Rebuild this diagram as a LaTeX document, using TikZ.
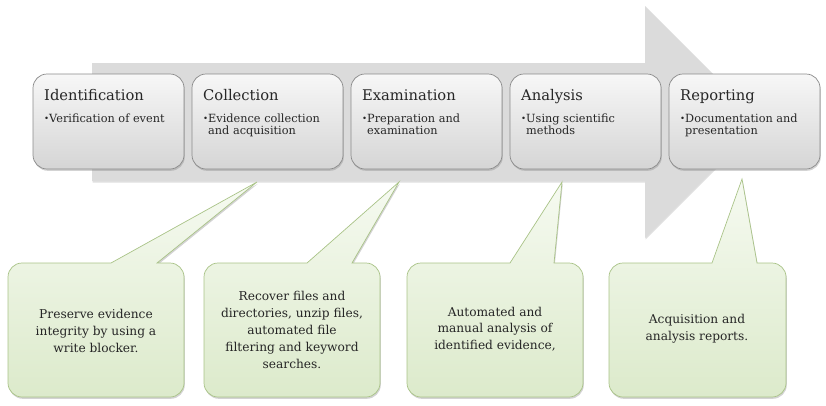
\documentclass[tikz,border=0pt]{standalone}
\usepackage{fontspec}
\setmainfont{DejaVu Serif}
\usetikzlibrary{shadows}
\definecolor{arrowgray}{HTML}{DBDBDB}
\definecolor{boxtop}{HTML}{F7F7F7}
\definecolor{boxbot}{HTML}{D5D5D5}
\definecolor{boxline}{HTML}{8A8A8A}
\definecolor{greentop}{HTML}{F6FAF1}
\definecolor{greenbot}{HTML}{DCEACB}
\definecolor{greenline}{HTML}{A9C387}
\definecolor{txt}{HTML}{262626}
\newcommand{\mybul}{\makebox[5pt][l]{\raisebox{0.3pt}{\fontsize{8.5}{8.5}\selectfont •}}}
% callout: x1 x2 yt yb bx1 bx2 tip
\newcommand{\mycallout}[7]{%
  \path[callout]
    (#1,{#3+14}) .. controls (#1,{#3+6.3}) and ({#1+6.3},#3) .. ({#1+14},#3)
    -- (#5,#3) -- (#7) -- (#6,#3)
    -- ({#2-14},#3) .. controls ({#2-6.3},#3) and (#2,{#3+6.3}) .. (#2,{#3+14})
    -- (#2,{#4-14}) .. controls (#2,{#4-6.3}) and ({#2-6.3},#4) .. ({#2-14},#4)
    -- ({#1+14},#4) .. controls ({#1+6.3},#4) and (#1,{#4-6.3}) .. (#1,{#4-14})
    -- cycle;}
\begin{document}
\begin{tikzpicture}[x=1pt,y=-1pt,
  topbox/.style={draw=boxline, line width=0.7pt, rounded corners=14pt,
    top color=boxtop, bottom color=boxbot, minimum width=151pt,
    minimum height=95pt, inner sep=0pt,
    drop shadow={shadow xshift=0.8pt, shadow yshift=-1.8pt, opacity=0.35}},
  titlet/.style={anchor=base west, inner sep=0pt, text=txt,
    font=\fontsize{14.7}{16}\selectfont},
  bult/.style={anchor=base west, inner sep=0pt, text=txt,
    font=\fontsize{11.3}{12.2}\selectfont},
  callout/.style={draw=greenline, line width=0.7pt, top color=greentop,
    bottom color=greenbot,
    drop shadow={shadow xshift=0.8pt, shadow yshift=-1.8pt, opacity=0.35}},
  calltext/.style={align=center, inner sep=0pt, text=txt,
    font=\fontsize{12.2}{16.8}\selectfont},
  bigarrow/.style={fill=arrowgray,
    drop shadow={shadow xshift=0.5pt, shadow yshift=-1.5pt, opacity=0.25}}
]
\useasboundingbox (0,0) rectangle (826,405);

% big arrow
\path[bigarrow] (92,63) -- (645,63) -- (645,6) -- (761,122) -- (645,238)
  -- (645,181) -- (92,181) -- cycle;

% top boxes
\node[topbox] (id)  at (108.5,121.5) {};
\node[topbox] (col) at (267.5,121.5) {};
\node[topbox] (ex)  at (426.5,121.5) {};
\node[topbox] (an)  at (585.5,121.5) {};
\node[topbox] (rep) at (744.5,121.5) {};

\node[titlet] (idT)  at (44,100)  {Identification};
\node[titlet] (colT) at (203,100) {Collection};
\node[titlet] (exT)  at (362,100) {Examination};
\node[titlet] (anT)  at (521,100) {Analysis};
\node[titlet] (repT) at (680,100) {Reporting};

\node[bult] (idB)  at (44,122)  {\mybul\parbox[t]{135pt}{Verification of event}};
\node[bult] (colB) at (203,122) {\mybul\parbox[t]{135pt}{Evidence collection\\and acquisition}};
\node[bult] (exB)  at (362,122) {\mybul\parbox[t]{135pt}{Preparation and\\examination}};
\node[bult] (anB)  at (521,122) {\mybul\parbox[t]{135pt}{Using scientific\\methods}};
\node[bult] (repB) at (680,122) {\mybul\parbox[t]{135pt}{Documentation and\\presentation}};

% callout tips
\coordinate (t1) at (257,182);
\coordinate (t2) at (399,182);
\coordinate (t3) at (562,182);
\coordinate (t4) at (742,179);

% callouts
\mycallout{8}{184}{263}{397}{111}{157}{t1}
\mycallout{204}{380}{263}{397}{307}{352}{t2}
\mycallout{407}{583}{263}{397}{510}{554}{t3}
\mycallout{609}{786}{263}{397}{712}{757}{t4}

\node[calltext] (c1) at (96,331) {Preserve evidence\\integrity by using a\\write blocker.};
\node[calltext] (c2) at (292,330) {Recover files and\\directories, unzip files,\\automated file\\filtering and keyword\\searches.};
\node[calltext] (c3) at (495,329) {Automated and\\manual analysis of\\identified evidence,};
\node[calltext] (c4) at (697,329) {Acquisition and\\analysis reports.};
\end{tikzpicture}
\end{document}
